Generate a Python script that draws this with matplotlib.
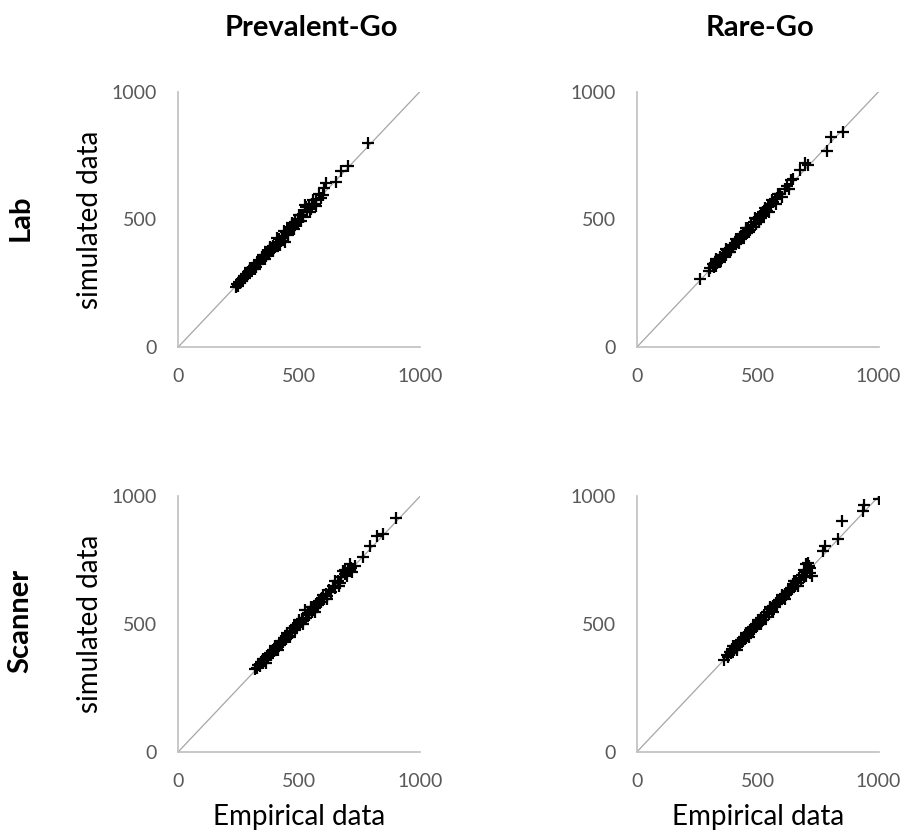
import matplotlib
matplotlib.use("Agg")
import matplotlib.pyplot as plt

plt.rcParams['font.family'] = ['Lato', 'DejaVu Sans']

# Prevalent-Go, Lab
pg_lab_x = [239, 244, 248, 252, 256, 260, 263, 267, 271, 275,
            279, 283, 287, 291, 295, 299, 303, 307, 311, 316,
            321, 326, 331, 336, 341, 346, 352, 358, 364, 370,
            376, 382, 388, 394, 400, 406, 412, 418, 424, 430,
            436, 441, 447, 453, 459, 465, 471, 477, 483, 489,
            495, 502, 510, 518, 524, 532, 540, 548, 556, 565,
            572, 600, 603, 614, 655, 676, 703, 786,
            300, 320, 350, 360, 380, 395, 410, 420, 440, 455,
            470, 480, 500, 510, 530, 545, 560, 570, 585, 590]
pg_lab_y = [235, 248, 240, 256, 250, 262, 258, 272, 266, 279,
            273, 287, 281, 295, 290, 303, 297, 312, 305, 320,
            315, 331, 325, 341, 335, 352, 345, 363, 356, 374,
            368, 386, 380, 398, 392, 410, 404, 422, 415, 436,
            428, 412, 452, 445, 466, 458, 478, 470, 492, 484,
            501, 495, 516, 510, 556, 538, 548, 542, 562, 560,
            575, 595, 625, 643, 647, 690, 708, 800,
            312, 306, 362, 346, 394, 378, 426, 402, 456, 438,
            486, 462, 516, 494, 548, 528, 575, 552, 598, 585]

# Rare-Go, Lab
rg_lab_x = [263, 299, 305, 315, 318, 322, 326, 330, 334, 338,
            342, 346, 350, 355, 360, 365, 370, 375, 380, 385,
            390, 395, 400, 405, 410, 415, 420, 426, 432, 438,
            444, 450, 456, 462, 468, 474, 480, 486, 492, 498,
            504, 510, 516, 522, 528, 534, 540, 548, 556, 564,
            572, 580, 592, 613, 640, 647, 675, 696, 710, 786,
            804, 851,
            330, 345, 370, 385, 410, 425, 450, 465, 490, 505,
            530, 545, 560, 575, 585, 600, 620, 630]
rg_lab_y = [268, 298, 310, 327, 315, 330, 320, 336, 328, 343,
            336, 352, 344, 360, 352, 370, 362, 380, 373, 390,
            383, 400, 393, 410, 403, 420, 413, 432, 424, 444,
            436, 455, 447, 468, 458, 480, 470, 490, 483, 502,
            495, 515, 507, 528, 520, 540, 533, 552, 560, 570,
            580, 585, 601, 621, 654, 660, 693, 722, 712, 769,
            821, 843,
            344, 332, 384, 372, 424, 410, 466, 450, 506, 490,
            546, 530, 578, 560, 600, 588, 632, 618]

# Prevalent-Go, Scanner
pg_scan_x = [317, 325, 332, 338, 344, 350, 356, 362, 368, 374,
             380, 386, 392, 398, 404, 410, 416, 422, 428, 434,
             440, 446, 452, 458, 464, 470, 476, 482, 488, 494,
             500, 506, 512, 518, 524, 530, 536, 542, 548, 554,
             560, 566, 572, 578, 584, 590, 596, 602, 610, 618,
             626, 634, 642, 650, 660, 668, 676, 683, 690, 696,
             702, 708, 710, 731, 763, 793, 821, 848, 901,
             350, 365, 400, 415, 450, 465, 500, 515, 550, 565,
             600, 615, 650, 665, 690, 700, 715, 720]
pg_scan_y = [325, 330, 340, 336, 352, 348, 364, 360, 376, 370,
             388, 382, 400, 394, 412, 406, 424, 418, 436, 430,
             448, 442, 460, 454, 472, 466, 484, 478, 496, 490,
             508, 502, 520, 514, 558, 526, 544, 538, 556, 550,
             568, 562, 580, 574, 592, 586, 604, 598, 618, 612,
             634, 628, 650, 644, 668, 662, 684, 708, 696, 702,
             712, 715, 734, 727, 762, 805, 844, 853, 916,
             364, 350, 414, 400, 466, 450, 516, 500, 566, 550,
             616, 600, 668, 650, 714, 690, 722, 705]

# Rare-Go, Scanner
rg_scan_x = [361, 372, 378, 384, 390, 396, 402, 408, 414, 420,
             426, 432, 438, 444, 450, 456, 462, 468, 474, 480,
             486, 492, 498, 504, 510, 516, 522, 528, 534, 540,
             546, 552, 558, 564, 570, 576, 582, 588, 594, 600,
             606, 612, 618, 624, 630, 636, 642, 648, 654, 660,
             666, 672, 678, 684, 690, 696, 700, 706, 712, 716,
             723, 772, 779, 834, 848, 935, 938, 1000,
             400, 415, 450, 465, 500, 515, 550, 565, 600, 615,
             650, 665, 690, 700, 710, 718]
rg_scan_y = [361, 380, 374, 392, 386, 404, 398, 416, 410, 428,
             422, 440, 434, 452, 446, 464, 458, 476, 470, 488,
             482, 500, 494, 512, 506, 524, 518, 536, 530, 548,
             542, 560, 554, 572, 566, 584, 578, 596, 590, 608,
             602, 620, 614, 632, 626, 644, 638, 656, 650, 668,
             662, 680, 674, 692, 686, 704, 734, 712, 727, 722,
             688, 786, 805, 835, 903, 944, 968, 991,
             414, 400, 466, 450, 516, 500, 566, 550, 616, 600,
             668, 650, 714, 690, 738, 700]

diag = [0, 1000]
ticks = [0, 500, 1000]
col_titles = ["Prevalent-Go", "Rare-Go"]
row_titles = ["Lab", "Scanner"]

panels = [[(pg_lab_x, pg_lab_y), (rg_lab_x, rg_lab_y)],
          [(pg_scan_x, pg_scan_y), (rg_scan_x, rg_scan_y)]]

fig = plt.figure(figsize=(9.03, 8.33), dpi=100)

lefts = [0.197, 0.705]
bottoms = [0.583, 0.097]
w, h = 0.268, 0.307

for r in range(2):
    for c in range(2):
        ax = fig.add_axes([lefts[c], bottoms[r], w, h])
        xs, ys = panels[r][c]
        ax.plot(diag, diag, color='#a6a6a6', lw=0.9, zorder=1)
        ax.plot(xs, ys, linestyle='none', marker='+', color='black',
                markersize=8, markeredgewidth=1.6, zorder=2)
        ax.set_xlim(0, 1000)
        ax.set_ylim(0, 1000)
        ax.set_xticks(ticks)
        ax.set_yticks(ticks)
        ax.tick_params(length=0, labelsize=14, labelcolor='#595959')
        ax.tick_params(axis='x', pad=15)
        ax.tick_params(axis='y', pad=15)
        for s in ['top', 'right']:
            ax.spines[s].set_visible(False)
        for s in ['left', 'bottom']:
            ax.spines[s].set_color('#bfbfbf')
            ax.spines[s].set_linewidth(1.2)
        if c == 0:
            ax.set_ylabel("simulated data", fontsize=20, labelpad=6)
        if r == 1:
            ax.set_xlabel("Empirical data", fontsize=20, labelpad=10)

fig.text(0.345, 0.966, col_titles[0], ha='center', va='center',
         fontsize=21, fontweight='bold')
fig.text(0.842, 0.966, col_titles[1], ha='center', va='center',
         fontsize=21, fontweight='bold')
fig.text(0.023, 0.738, row_titles[0], ha='center', va='center',
         fontsize=21, fontweight='bold', rotation=90)
fig.text(0.023, 0.254, row_titles[1], ha='center', va='center',
         fontsize=21, fontweight='bold', rotation=90)

fig.savefig("out.png", dpi=100)
